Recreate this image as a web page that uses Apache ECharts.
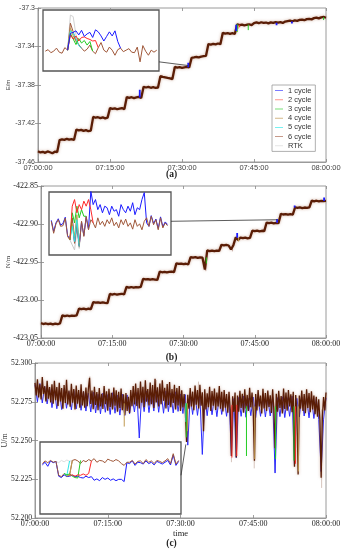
<!DOCTYPE html>
<html><head><meta charset="utf-8">
<script src="https://cdn.jsdelivr.net/npm/echarts@6/dist/echarts.min.js"></script>
<style>html,body{margin:0;padding:0;background:#fff}#c{width:343px;height:550px}</style>
</head><body><div id="c"></div><script>
// ---------- tick labels / categories ----------
const timeTicks = ['07:00:00','07:15:00','07:30:00','07:45:00','08:00:00'];
const seriesNames = ['1 cycle','2 cycle','3 cycle','4 cycle','5 cycle','6 cycle','RTK'];
const legendColors = ['#5b5bff','#ff7a6e','#55d655','#c8a468','#55eeee','#b9806c','#dddddd'];
const SAMPLE_AB = 0.5;   // minutes between samples, panels (a),(b)
const SAMPLE_C = 0.25;   // minutes between samples, panel (c) 6-cycle line

// ---------- panel (a): E/m, 6 cycle (main line) ----------
const eMain = [-37.4488,-37.4501,-37.4494,-37.4505,-37.4490,-37.4499,-37.4509,-37.4493,-37.4497,
-37.4372,-37.4364,-37.4370,-37.4359,-37.4368,-37.4362,-37.4371,
-37.4262,-37.4271,-37.4266,-37.4277,-37.4269,-37.4280,-37.4274,
-37.4131,-37.4140,-37.4135,-37.4144,-37.4137,-37.4146,-37.4139,
-37.4040,-37.4048,-37.4043,-37.4052,-37.4046,-37.4041,-37.4050,
-37.3925,-37.3933,-37.3927,-37.3936,-37.3929,-37.3924,-37.3934,
-37.3818,-37.3826,-37.3820,-37.3829,-37.3823,-37.3831,-37.3826,
-37.3708,-37.3715,-37.3720,-37.3726,-37.3731,-37.3738,
-37.3612,-37.3619,-37.3614,-37.3621,-37.3616,-37.3612,-37.3618,
-37.3518,-37.3514,-37.3509,-37.3512,-37.3505,-37.3501,-37.3497,
-37.3375,-37.3380,-37.3372,-37.3378,-37.3369,-37.3376,
-37.3258,-37.3266,-37.3260,-37.3269,-37.3262,-37.3270,
-37.3170,-37.3178,-37.3172,-37.3180,-37.3174,-37.3169,-37.3177,
-37.3156,-37.3150,-37.3158,-37.3148,-37.3155,-37.3151,-37.3160,-37.3149,-37.3154,-37.3146,
-37.3152,-37.3147,-37.3155,-37.3141,-37.3136,-37.3131,-37.3138,-37.3128,-37.3133,-37.3124,
-37.3120,-37.3127,-37.3116,-37.3112,-37.3118,-37.3105,-37.3100,-37.3108,-37.3097,-37.3093,-37.3101];
// short excursions of the other solutions: [minute, from, to]
const eSpikes = {
  '1 cycle': [[21.2,-37.3929,-37.3850],[31.3,-37.3616,-37.3570],[41.3,-37.3174,-37.3240],[49.7,-37.3152,-37.3178],[52.9,-37.3140,-37.3162]],
  '2 cycle': [[42.0,-37.3174,-37.3200]],
  '3 cycle': [[41.5,-37.3170,-37.3250],[43.8,-37.3172,-37.3230],[59.5,-37.3095,-37.3125]],
  '4 cycle': [[41.7,-37.3175,-37.3215]],
  '5 cycle': [[41.4,-37.3174,-37.3205]],
  'RTK': []
};
// inset (a): sample index vs E
const eInset6 = [-37.3611,-37.3608,-37.3614,-37.3611,-37.3605,-37.3613,-37.3615,-37.3604,-37.3609,-37.3556,-37.3573,-37.3591,-37.3598,-37.3605,-37.3611,-37.3607,-37.3599,-37.3611,-37.3616,-37.3604,-37.3594,-37.3609,-37.3613,-37.3603,-37.3609,-37.3619,-37.3608,-37.3605,-37.3612,-37.3609,-37.3606,-37.3613,-37.3614,-37.3603,-37.3632,-37.3600,-37.3611,-37.3619,-37.3609,-37.3613,-37.3609];
const eInsetStart = 8;
const eInset1 = [-37.3609,-37.3576,-37.3574,-37.3571,-37.3579,-37.3570,-37.3582,-37.3577,-37.3574,-37.3584,-37.3569,-37.3573,-37.3581,-37.3591,-37.3582,-37.3573,-37.3581,-37.3571,-37.3592,-37.3605];
const eInset2 = [-37.3609,-37.3579,-37.3587,-37.3581,-37.3591,-37.3584,-37.3583,-37.3586,-37.3588,-37.3591,-37.3590,-37.3604];
const eInset3 = [-37.3609,-37.3576,-37.3587,-37.3598,-37.3586,-37.3595,-37.3590,-37.3599,-37.3592,-37.3611];
const eInset4 = [-37.3609,-37.3565,-37.3581,-37.3592,-37.3598];
const eInset5 = [-37.3609,-37.3571,-37.3575,-37.3586,-37.3600,-37.3605];
const eInsetRTK = [-37.3609,-37.3540,-37.3543,-37.3579,-37.3600,-37.3605];
const eConn = [[40.8,-37.3632],[31.3,-37.3598]];

// ---------- panel (b): N/m ----------
const nMain = [-423.0305,-423.0316,-423.0309,-423.0318,-423.0310,-423.0321,-423.0312,-423.0319,-423.0308,
-423.0202,-423.0211,-423.0204,-423.0213,-423.0206,-423.0210,-423.0201,
-423.0112,-423.0120,-423.0113,-423.0122,-423.0115,-423.0119,
-423.0028,-423.0036,-423.0030,-423.0039,-423.0032,-423.0037,-423.0041,
-422.9920,-422.9928,-422.9921,-422.9930,-422.9923,-422.9918,-422.9927,
-422.9828,-422.9836,-422.9829,-422.9838,-422.9831,-422.9835,-422.9827,
-422.9722,-422.9730,-422.9724,-422.9733,-422.9726,-422.9731,-422.9736,
-422.9627,-422.9635,-422.9629,-422.9637,-422.9631,-422.9626,-422.9634,
-422.9518,-422.9526,-422.9520,-422.9528,-422.9523,-422.9530,
-422.9435,-422.9443,-422.9437,-422.9446,-422.9439,-422.9444,-422.9600,
-422.9348,-422.9356,-422.9350,-422.9357,-422.9351,-422.9355,
-422.9273,-422.9281,-422.9275,-422.9283,-422.9335,-422.9279,
-422.9176,-422.9210,-422.9178,-422.9186,-422.9180,-422.9188,-422.9183,
-422.9086,-422.9094,-422.9088,-422.9096,-422.9089,-422.9093,
-422.8981,-422.8989,-422.8983,-422.8991,-422.8985,-422.8988,
-422.8867,-422.8875,-422.8869,-422.8877,-422.8871,-422.8876,
-422.8780,-422.8788,-422.8782,-422.8790,-422.8783,-422.8787,-422.8781,
-422.8693,-422.8701,-422.8694,-422.8702,-422.8696,-422.8700,-422.8697];
const nSpikes = {
  '1 cycle': [[41.3,-422.9180,-422.9120],[49.7,-422.8985,-422.8935],[53.4,-422.8784,-422.8755],[59.6,-422.8697,-422.8650]],
  '2 cycle': [[49.8,-422.8985,-422.8950]],
  '3 cycle': [[34.8,-422.9439,-422.9520]],
  '4 cycle': [[41.6,-422.9181,-422.9230]],
  '5 cycle': [],
  'RTK': [[34.7,-422.9440,-422.9620],[40.3,-422.9277,-422.9360]]
};
const nInset6 = [-422.8943,-422.8981,-422.8951,-422.8938,-422.8959,-422.8957,-422.8933,-422.8991,-422.9002,-422.8932,-422.9013,-422.8948,-422.9023,-422.8943,-422.8991,-422.8927,-422.8970,-422.8938,-422.8948,-422.8964,-422.8932,-422.8954,-422.8943,-422.8959,-422.8938,-422.8951,-422.8932,-422.8957,-422.8946,-422.8964,-422.8938,-422.8954,-422.8936,-422.8959,-422.8948,-422.8968,-422.8938,-422.8959,-422.8951,-422.8970,-422.8943,-422.8932,-422.8959,-422.8927,-422.8954,-422.8938,-422.8970,-422.8932,-422.8964,-422.8948,-422.8957];
const nInset1 = [-422.8940,-422.8975,-422.8948,-422.8935,-422.8955,-422.8950,-422.8930,-422.8988,-422.9000,-422.8935,-422.9010,-422.8950,-422.9020,-422.8945,-422.8988,-422.8930,-422.8968,-422.8847,-422.8890,-422.8874,-422.8906,-422.8890,-422.8916,-422.8895,-422.8900,-422.8922,-422.8895,-422.8911,-422.8906,-422.8927,-422.8890,-422.8906,-422.8916,-422.8895,-422.8911,-422.8884,-422.8922,-422.8900,-422.8906,-422.8874,-422.8852,-422.8948,-422.8959,-422.8925,-422.8950,-422.8936,-422.8966,-422.8929,-422.8960,-422.8945,-422.8953];
const nInsetStart = 8;
const nInset2 = [-422.9002,-422.8895,-422.8874,-422.8916,-422.8890,-422.8906,-422.8879,-422.8895,-422.8874,-422.8906,-422.8948];
const nInset3 = [-422.9002,-422.8916,-422.8948,-422.8895,-422.8932,-422.8906,-422.8927,-422.8927];
const nInset4 = [-422.9002,-422.8948,-422.8991,-422.8922,-422.9013];
const nInset5 = [-422.9002,-422.8959,-422.9007,-422.8938,-422.9023];
const nInsetRTK = [-422.9002,-422.9018,-422.9034,-422.8970,-422.9029,-422.8943];
const nConn = [[51.5,-422.8943],[49.7,-422.8944]];

// ---------- panel (c): U/m ----------
const uMain6 = [52.2872,52.2790,52.2895,52.2778,52.2862,52.2765,52.2910,52.2800,52.2850,52.2752,52.2885,52.2770,52.2845,
52.2745,52.2862,52.2738,52.2885,52.2760,52.2845,52.2722,52.2872,52.2752,52.2838,52.2705,52.2858,52.2742,52.2892,52.2733,52.2822,52.2718,52.2866,52.2744,52.2832,52.2700,52.2855,52.2738,52.2826,52.2712,52.2862,52.2726,52.2818,
52.2712,52.2842,52.2722,52.2832,52.2905,52.2736,52.2822,52.2702,52.2846,52.2730,52.2812,52.2696,52.2838,52.2720,52.2802,52.2704,52.2852,52.2734,52.2818,52.2692,52.2834,52.2716,52.2808,52.2700,52.2842,52.2724,52.2824,52.2686,52.2814,52.2710,52.2836,52.2696,52.2798,52.2665,52.2806,52.2690,52.2782,52.2678,52.2826,52.2722,
52.2852,52.2732,52.2868,52.2722,52.2838,52.2706,52.2880,52.2744,52.2846,52.2714,52.2888,52.2750,52.2832,52.2726,52.2874,52.2734,52.2858,52.2710,52.2898,52.2746,52.2844,52.2720,52.2868,52.2734,52.2888,52.2756,52.2840,52.2706,52.2864,52.2730,52.2878,52.2714,52.2832,52.2742,52.2860,52.2700,52.2838,52.2726,52.2852,52.2690,52.2824,52.2714,52.2800,52.2686,
52.2490,52.2795,52.2705,52.2838,52.2719,52.2815,52.2695,52.2855,52.2731,52.2825,52.2707,52.2859,52.2725,52.2811,52.2560,52.2831,52.2701,52.2805,52.2715,52.2847,52.2691,52.2819,52.2725,52.2835,52.2697,52.2809,52.2719,52.2851,52.2705,52.2815,52.2687,52.2825,52.2711,52.2799,52.2679,52.2815,52.2701,52.2400,52.2785,52.2685,
52.2810,52.2390,52.2790,52.2686,52.2820,52.2710,52.2802,52.2680,52.2830,52.2706,52.2794,52.2690,52.2840,52.2714,52.2810,52.2682,52.2370,52.2800,52.2694,52.2826,52.2720,52.2790,52.2674,52.2834,52.2706,52.2806,52.2690,52.2822,52.2716,52.2792,52.2678,52.2830,52.2700,52.2450,52.2802,52.2686,52.2820,52.2710,52.2786,52.2674,52.2836,52.2704,52.2810,52.2692,52.2826,52.2720,52.2798,52.2682,52.2814,52.2330,52.2794,52.2694,52.2280,52.2790,52.2706,52.2822,52.2690,52.2800,52.2676,52.2830,52.2710,52.2806,52.2682,52.2818,52.2700,52.2790,52.2670,52.2782,52.2654,52.2766,52.2630,52.2260,52.2650,52.2780,52.2694,52.2810];
const uMain1 = [52.2860,52.2750,52.2868,52.2742,52.2850,52.2736,52.2840,
52.2712,52.2825,52.2705,52.2818,52.2700,52.2830,52.2708,52.2815,52.2698,52.2822,52.2704,52.2810,52.2695,52.2816,
52.2690,52.2805,52.2684,52.2812,52.2678,52.2798,52.2672,52.2806,52.2682,52.2796,52.2668,52.2808,52.2676,52.2792,52.2664,52.2800,52.2660,52.2794,52.2672,52.2786,
52.2684,52.2810,52.2516,52.2804,52.2686,52.2818,52.2680,52.2808,52.2690,52.2822,52.2682,52.2812,52.2676,52.2818,52.2686,52.2806,52.2678,52.2814,52.2688,52.2800,52.2674,52.2796,
52.2470,52.2790,52.2668,52.2796,52.2662,52.2786,52.2410,52.2780,52.2660,52.2792,52.2666,52.2778,52.2654,52.2788,52.2668,52.2774,52.2656,52.2782,52.2400,52.2770,
52.2390,52.2778,52.2656,52.2786,52.2650,52.2772,52.2660,52.2780,52.2648,52.2776,52.2656,52.2784,52.2652,52.2770,52.2658,52.2778,52.2290,52.2776,52.2654,52.2782,52.2648,52.2776,52.2656,52.2786,52.2340,52.2772,52.2652,52.2780,52.2658,52.2774,52.2646,52.2778,52.2642,52.2770,52.2636,52.2300,52.2638,52.2775];
const uSpikes = {
  '2 cycle': [[40.6,52.2730,52.2390],[41.6,52.2730,52.2400],[53.7,52.2720,52.2350]],
  '3 cycle': [[31.2,52.2740,52.2520],[43.6,52.2720,52.2400],[49.6,52.2720,52.2380],[53.4,52.2720,52.2370]],
  '4 cycle': [[31.4,52.2740,52.2560],[45.3,52.2720,52.2380],[54.3,52.2720,52.2300],[18.4,52.2740,52.2590]],
  '5 cycle': [[31.1,52.2740,52.2620]],
  'RTK': [[40.5,52.2720,52.2360],[45.2,52.2720,52.2320],[49.5,52.2720,52.2300],[59.1,52.2700,52.2194],[11.3,52.2830,52.2914],[25.0,52.2830,52.2890],[33.7,52.2800,52.2880]]
};
const uInset6 = [52.2512,52.2518,52.2514,52.2519,52.2515,52.2517,52.2486,52.2483,52.2490,52.2484,52.2486,52.2519,52.2521,52.2518,52.2512,52.2519,52.2516,52.2521,52.2518,52.2523,52.2515,52.2519,52.2518,52.2514,52.2522,52.2519,52.2517,52.2521,52.2518,52.2512,52.2508,52.2515,52.2515,52.2519,52.2511,52.2517,52.2518,52.2512,52.2521,52.2515,52.2518,52.2512,52.2519,52.2517,52.2514,52.2518,52.2523,52.2512,52.2534,52.2511,52.2519];
const uInset1 = [52.2509,52.2515,52.2506,52.2518,52.2514,52.2517,52.2484,52.2481,52.2487,52.2483,52.2484,52.2486,52.2483,52.2484,52.2481,52.2480,52.2484,52.2481,52.2483,52.2475,52.2478,52.2474,52.2481,52.2477,52.2480,52.2475,52.2478,52.2474,52.2477,52.2477,52.2472,52.2514,52.2512,52.2518,52.2508,52.2515,52.2514,52.2511,52.2518,52.2512,52.2515,52.2509,52.2517,52.2514,52.2511,52.2515,52.2519,52.2509,52.2531,52.2508,52.2517];
const uInset2Start = 10, uInset2 = [52.2486,52.2487,52.2484,52.2487,52.2486,52.2489,52.2486,52.2490,52.2518];
const uInset3Start = 8,  uInset3 = [52.2490,52.2487,52.2489,52.2484,52.2481,52.2480,52.2519];
const uInset4Start = 9,  uInset4 = [52.2484,52.2487,52.2519];
const uInset5Start = 8,  uInset5 = [52.2490,52.2486,52.2518];
const uInsetRTKStart = 5, uInsetRTK = [52.2517,52.2514,52.2519,52.2516,52.2520,52.2517,52.2519];
const uConn = [[50.85,52.2486],[31.1,52.2475]];

// ---------- build ----------
const SANS = "'Liberation Sans', Arial, sans-serif";
const SERIF = "'Liberation Serif', 'Times New Roman', serif";
const COL = {'1 cycle':'#1a1aff','2 cycle':'#ff2a2a','3 cycle':'#22cc22','4 cycle':'#c09a50','5 cycle':'#2ee6e6','6 cycle':'#a0583a','RTK':'#d2d2d2'};
const MAIN_DARK = '#5a1d06';

const ts = (arr, step) => arr.map((v,i)=>[i*step, v]);
const idx = (arr, start) => arr.map((v,i)=>[start+i, v]);
const spikes = list => { const d=[]; list.forEach(s=>{ d.push([s[0],s[1]],[s[0],s[2]],[s[0],'-']); }); return d; };
const line = (name, data, ax, color, width, z, extra) => Object.assign({
  type:'line', name, data, xAxisIndex:ax, yAxisIndex:ax, symbol:'none', showSymbol:false,
  silent:true, animation:false, z: z||2,
  lineStyle:{color, width: width||1}, itemStyle:{color}
}, extra||{});

const grids = [
  {left:38, top:8, width:288, height:154},
  {left:41, top:186, width:285, height:152},
  {left:35, top:363, width:291, height:155},
  {left:43, top:10, width:116, height:61},
  {left:49, top:192, width:122, height:63},
  {left:40, top:442, width:141, height:72}
].map((g,i)=>Object.assign({show:true, borderColor: i<3?'#9a9a9a':'#555', borderWidth: i<3?1:1.3, backgroundColor:'#fff', containLabel:false, outerBoundsMode:'none'}, g));

const tickStyle = {inside:true, length:3, lineStyle:{color:'#888', width:0.8}};
const timeFmt = v => timeTicks[Math.round(v/15)] || '';
function xMain(gi, font, size, color, extra){
  return Object.assign({type:'value', gridIndex:gi, min:0, max:60, interval:15, position:'bottom',
    axisLine:{show:true, lineStyle:{color:'#9a9a9a'}}, axisTick:tickStyle, splitLine:{show:false},
    axisLabel:{formatter:timeFmt, fontFamily:font, fontSize:size, color, margin:2, hideOverlap:false}}, extra||{});
}
function xTop(gi){ return {type:'value', gridIndex:gi, min:0, max:60, interval:15, position:'top',
  axisLine:{show:false}, axisTick:tickStyle, axisLabel:{show:false}, splitLine:{show:false}}; }
function yMain(gi, min, max, itv, fmt, font, size, color, name, gap, nsize){
  return {type:'value', gridIndex:gi, min, max, interval:itv, position:'left',
    axisLine:{show:true, lineStyle:{color:'#9a9a9a'}}, axisTick:tickStyle, splitLine:{show:false},
    axisLabel:{formatter:fmt, fontFamily:font, fontSize:size, color, margin:3, hideOverlap:false},
    name, nameLocation:'middle', nameGap:gap, nameRotate:90, nameMoveOverlap:false,
    nameTextStyle:{fontFamily:font, fontSize:nsize, color:'#444'}};
}
function yRight(gi, min, max, itv){ return {type:'value', gridIndex:gi, min, max, interval:itv, position:'right',
  axisLine:{show:false}, axisTick:tickStyle, axisLabel:{show:false}, splitLine:{show:false}}; }
const hid = (gi,min,max)=>({type:'value', gridIndex:gi, min, max, show:false, splitLine:{show:false}});

const xAxis = [
  xMain(0, SANS, 7.5, '#444'),
  xMain(1, SERIF, 8, '#222'),
  xMain(2, SERIF, 8, '#222', {name:'time', nameLocation:'middle', nameGap:11, nameMoveOverlap:false, nameTextStyle:{fontFamily:SERIF, fontSize:8.5, color:'#222'}}),
  xTop(0), xTop(1), xTop(2),
  hid(3,-0.83,40.8), hid(4,-1,51.5), hid(5,-0.85,50.85)
];
const yAxis = [
  yMain(0,-37.46,-37.3,0.04, v=>String(+v.toFixed(2)), SANS, 7, '#444', 'E/m', 27, 6),
  yMain(1,-423.05,-422.85,0.05, v=>v.toFixed(2), SERIF, 8, '#222', 'N/m', 29, 7),
  yMain(2,52.2,52.3,0.025, v=>v.toFixed(3), SERIF, 7.6, '#222', 'U/m', 26, 8),
  yRight(0,-37.46,-37.3,0.04), yRight(1,-423.05,-422.85,0.05), yRight(2,52.2,52.3,0.025),
  hid(3,-37.365,-37.353), hid(4,-422.905,-422.885), hid(5,52.240,52.256)
];

const halo = {shadowBlur:3, shadowColor:'rgba(170,110,80,0.55)'};
const series = [];
// panel (a)
series.push(line('RTK', spikes(eSpikes['RTK']), 0, COL['RTK'], 1, 2));
series.push(line('6 cycle', ts(eMain, SAMPLE_AB), 0, MAIN_DARK, 2.3, 3, {lineStyle:Object.assign({color:MAIN_DARK, width:2.3}, halo)}));
['5 cycle','4 cycle','3 cycle','2 cycle','1 cycle'].forEach(n=>series.push(line(n, spikes(eSpikes[n]), 0, COL[n], n==='1 cycle'?1.8:1, 4)));
// panel (b)
series.push(line('RTK', spikes(nSpikes['RTK']), 1, '#c8b0a8', 1, 2));
series.push(line('6 cycle', ts(nMain, SAMPLE_AB), 1, MAIN_DARK, 2.3, 3, {lineStyle:Object.assign({color:MAIN_DARK, width:2.3}, halo)}));
['5 cycle','4 cycle','3 cycle','2 cycle','1 cycle'].forEach(n=>series.push(line(n, spikes(nSpikes[n]), 1, COL[n], n==='1 cycle'?1.8:1, 4)));
// panel (c)
series.push(line('RTK', spikes(uSpikes['RTK']), 2, '#d6c4bc', 1, 2));
series.push(line('1 cycle', ts(uMain1, SAMPLE_AB), 2, '#2a2aff', 1, 2));
series.push(line('6 cycle', ts(uMain6, SAMPLE_C), 2, MAIN_DARK, 1.3, 3, {lineStyle:Object.assign({color:MAIN_DARK, width:1.3}, halo)}));
['5 cycle','4 cycle','3 cycle','2 cycle'].forEach(n=>series.push(line(n, spikes(uSpikes[n]), 2, COL[n], 1, 4)));
// inset (a)
series.push(line('RTK', idx(eInsetRTK, eInsetStart), 6, COL['RTK'], 1, 5));
series.push(line('6 cycle', idx(eInset6, 0), 6, COL['6 cycle'], 1, 6));
series.push(line('4 cycle', idx(eInset4, eInsetStart), 6, COL['4 cycle'], 1, 7));
series.push(line('5 cycle', idx(eInset5, eInsetStart), 6, COL['5 cycle'], 1, 7));
series.push(line('3 cycle', idx(eInset3, eInsetStart), 6, COL['3 cycle'], 1, 7));
series.push(line('2 cycle', idx(eInset2, eInsetStart), 6, COL['2 cycle'], 1, 7));
series.push(line('1 cycle', idx(eInset1, eInsetStart), 6, COL['1 cycle'], 1, 7));
// inset (b)
series.push(line('RTK', idx(nInsetRTK, nInsetStart), 7, '#c8c8c8', 1, 5));
series.push(line('1 cycle', idx(nInset1, 0), 7, COL['1 cycle'], 1, 5));
series.push(line('6 cycle', idx(nInset6, 0), 7, COL['6 cycle'], 1, 6));
series.push(line('4 cycle', idx(nInset4, nInsetStart), 7, COL['4 cycle'], 1, 7));
series.push(line('5 cycle', idx(nInset5, nInsetStart), 7, COL['5 cycle'], 1, 7));
series.push(line('3 cycle', idx(nInset3, nInsetStart), 7, COL['3 cycle'], 1, 7));
series.push(line('2 cycle', idx(nInset2, nInsetStart), 7, COL['2 cycle'], 1, 7));
// inset (c)
series.push(line('RTK', idx(uInsetRTK, uInsetRTKStart), 8, '#dddddd', 1, 5));
series.push(line('1 cycle', idx(uInset1, 0), 8, COL['1 cycle'], 1, 5));
series.push(line('6 cycle', idx(uInset6, 0), 8, COL['6 cycle'], 1, 6));
series.push(line('4 cycle', idx(uInset4, uInset4Start), 8, COL['4 cycle'], 1, 7));
series.push(line('5 cycle', idx(uInset5, uInset5Start), 8, COL['5 cycle'], 1, 7));
series.push(line('3 cycle', idx(uInset3, uInset3Start), 8, COL['3 cycle'], 1, 7));
series.push(line('2 cycle', idx(uInset2, uInset2Start), 8, COL['2 cycle'], 1, 7));

const chart = echarts.init(document.getElementById('c'), null, {renderer:'canvas'});
chart.setOption({
  animation:false,
  backgroundColor:'#fff',
  title:[
    {text:'(a)', left:'center', top:170, textStyle:{fontFamily:SERIF, fontSize:9.5, fontWeight:'bold', color:'#222'}},
    {text:'(b)', left:'center', top:353, textStyle:{fontFamily:SERIF, fontSize:9.5, fontWeight:'bold', color:'#222'}},
    {text:'(c)', left:'center', top:539, textStyle:{fontFamily:SERIF, fontSize:9.5, fontWeight:'bold', color:'#222'}}
  ].map(t=>Object.assign({padding:0}, t)),
  legend:{
    orient:'vertical', left:272, top:85, selectedMode:false,
    backgroundColor:'#fff', borderColor:'#9a9a9a', borderWidth:0.8, padding:[1,4,1,3],
    itemWidth:8, itemHeight:9, itemGap:0,
    textStyle:{fontFamily:SANS, fontSize:7.5, color:'#333', lineHeight:9.2},
    data: seriesNames.map((n,i)=>({name:n, icon:'path://M0,4.5L10,4.5L10,5.5L0,5.5Z', itemStyle:{color:legendColors[i]}, lineStyle:{color:legendColors[i], width:1}}))
  },
  grid:grids, xAxis, yAxis, series
});

// connector lines between insets and main plots
function conn(conn, insetAx, mainAx){
  const a = chart.convertToPixel({xAxisIndex:insetAx, yAxisIndex:insetAx}, conn[0]);
  const b = chart.convertToPixel({xAxisIndex:mainAx, yAxisIndex:mainAx}, conn[1]);
  return {type:'line', shape:{x1:a[0], y1:a[1], x2:b[0], y2:b[1]}, style:{stroke:'#333', lineWidth:0.8}, z:10, silent:true};
}
chart.setOption({graphic:[conn(eConn,6,0), conn(nConn,7,1), conn(uConn,8,2)]});
</script></body></html>
